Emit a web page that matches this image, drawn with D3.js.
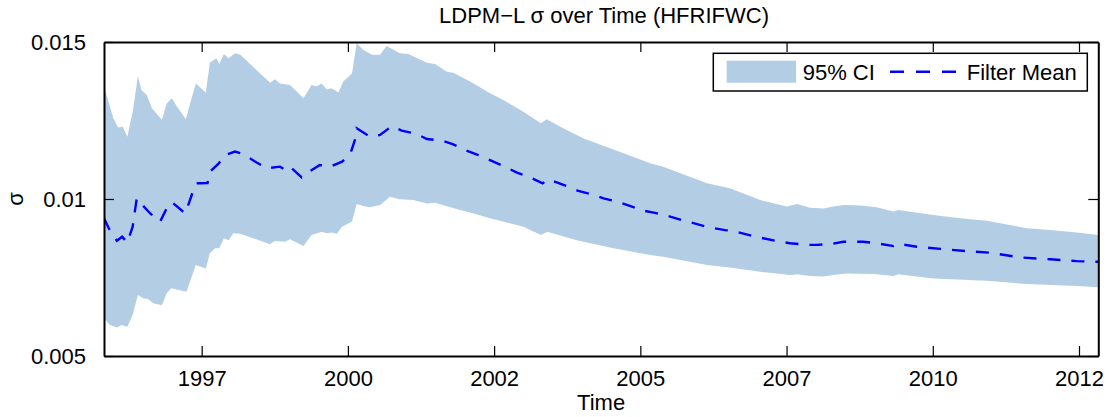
<!DOCTYPE html>
<html><head><meta charset="utf-8">
<script src="https://cdn.jsdelivr.net/npm/d3@7"></script>
<style>body{margin:0;background:#fff}svg{display:block;font-family:"Liberation Sans",Arial,sans-serif}</style>
</head><body><svg id="c" width="1109" height="417"></svg>
<script>
const titleText = "LDPM\u2212L \u03c3 over Time (HFRIFWC)";
const xLabelText = "Time";
const yLabelText = "\u03c3";
const legendLabels = ["95% CI", "Filter Mean"];
const xTickValues = [1997.5, 2000, 2002.5, 2005, 2007.5, 2010, 2012.5];
const xTickLabels = ["1997", "2000", "2002", "2005", "2007", "2010", "2012"];
const yTickValues = [0.005, 0.01, 0.015];
const yTickLabels = ["0.005", "0.01", "0.015"];
const xDomain = [1995.83, 2012.83];
const yDomain = [0.005, 0.015];

const upperYears = [1995.83,1995.99,1996.07,1996.15,1996.23,1996.32,1996.41,1996.47,1996.56,1996.65,1996.82,1996.90,1996.99,1997.08,1997.23,1997.31,1997.40,1997.57,1997.64,1997.75,1997.80,1997.88,1997.96,1998.07,1998.16,1998.67,1998.75,1998.84,1999.01,1999.24,1999.38,1999.46,1999.55,1999.64,1999.72,1999.84,1999.92,2000.07,2000.15,2000.26,2000.41,2000.55,2000.66,2000.89,2001.03,2001.35,2001.49,2001.69,2001.80,2002.09,2002.43,2002.66,2003.00,2003.30,2003.40,2003.68,2004.03,2004.54,2005.17,2005.39,2006.14,2006.53,2007.05,2007.50,2007.68,2007.90,2008.13,2008.30,2008.47,2008.76,2009.04,2009.33,2009.41,2010.01,2010.47,2010.92,2011.61,2012.01,2012.46,2012.83];
const upperValues = [0.01358,0.01257,0.01228,0.01230,0.01198,0.01278,0.01392,0.01347,0.01331,0.01289,0.01252,0.01303,0.01321,0.01294,0.01254,0.01310,0.01368,0.01339,0.01434,0.01448,0.01430,0.01462,0.01448,0.01464,0.01459,0.01370,0.01381,0.01368,0.01363,0.01321,0.01363,0.01358,0.01368,0.01349,0.01353,0.01339,0.01374,0.01400,0.01496,0.01475,0.01459,0.01459,0.01487,0.01464,0.01462,0.01434,0.01430,0.01405,0.01402,0.01374,0.01337,0.01315,0.01278,0.01241,0.01254,0.01225,0.01193,0.01158,0.01114,0.01103,0.01050,0.01034,0.00997,0.00976,0.00984,0.00972,0.00970,0.00976,0.00981,0.00979,0.00974,0.00960,0.00965,0.00949,0.00939,0.00931,0.00907,0.00901,0.00893,0.00885];

const lowerYears = [1995.83,1995.93,1996.05,1996.13,1996.23,1996.32,1996.41,1996.50,1996.59,1996.67,1996.82,1996.90,1996.98,1997.07,1997.24,1997.40,1997.57,1997.64,1997.73,1997.80,1997.88,1997.96,1998.04,1998.16,1998.67,1998.75,1998.93,1999.01,1999.24,1999.38,1999.47,1999.55,1999.64,1999.72,1999.81,1999.90,2000.07,2000.15,2000.26,2000.38,2000.55,2000.72,2000.89,2001.12,2001.35,2001.49,2001.75,2001.92,2002.15,2002.43,2003.00,2003.30,2003.41,2003.91,2004.54,2005.17,2005.39,2006.14,2006.53,2007.05,2007.56,2007.68,2007.90,2008.13,2008.30,2008.53,2008.99,2009.33,2009.41,2010.01,2010.92,2011.61,2012.46,2012.83];
const lowerValues = [0.00620,0.00599,0.00591,0.00599,0.00593,0.00631,0.00694,0.00684,0.00681,0.00668,0.00662,0.00700,0.00716,0.00712,0.00705,0.00790,0.00779,0.00827,0.00843,0.00843,0.00875,0.00869,0.00891,0.00889,0.00856,0.00866,0.00864,0.00872,0.00850,0.00885,0.00891,0.00896,0.00891,0.00893,0.00889,0.00912,0.00928,0.00984,0.00978,0.00974,0.00981,0.01007,0.00999,0.00997,0.00986,0.00988,0.00974,0.00965,0.00954,0.00939,0.00912,0.00885,0.00896,0.00869,0.00843,0.00822,0.00816,0.00790,0.00782,0.00768,0.00758,0.00760,0.00755,0.00753,0.00758,0.00763,0.00761,0.00755,0.00760,0.00747,0.00740,0.00729,0.00723,0.00719];

const meanYears = [1995.83,1995.92,1996.05,1996.14,1996.23,1996.32,1996.39,1996.46,1996.62,1996.79,1996.90,1996.99,1997.22,1997.36,1997.41,1997.47,1997.60,1997.64,1997.78,1997.90,1998.07,1998.21,1998.44,1998.61,1998.84,1998.93,1999.01,1999.21,1999.34,1999.52,1999.70,1999.90,2000.04,2000.12,2000.15,2000.38,2000.55,2000.75,2000.92,2001.18,2001.35,2001.61,2001.79,2002.03,2002.23,2002.43,2002.66,2002.89,2003.09,2003.33,2003.43,2003.49,2003.74,2003.94,2004.20,2004.37,2004.62,2004.82,2005.08,2005.25,2005.51,2005.71,2005.97,2006.16,2006.45,2006.59,2006.93,2007.10,2007.33,2007.56,2007.85,2008.02,2008.27,2008.47,2008.81,2009.04,2009.33,2009.41,2009.73,2010.13,2010.58,2010.98,2011.49,2012.01,2012.46,2012.83];
const meanValues = [0.00939,0.00904,0.00867,0.00880,0.00861,0.00912,0.01002,0.00986,0.00954,0.00928,0.00970,0.00990,0.00954,0.01029,0.01050,0.01050,0.01051,0.01087,0.01111,0.01140,0.01151,0.01143,0.01116,0.01098,0.01103,0.01092,0.01103,0.01069,0.01087,0.01108,0.01103,0.01119,0.01143,0.01188,0.01225,0.01198,0.01204,0.01232,0.01218,0.01207,0.01191,0.01186,0.01175,0.01154,0.01140,0.01124,0.01105,0.01084,0.01071,0.01050,0.01063,0.01058,0.01041,0.01026,0.01013,0.01002,0.00991,0.00978,0.00962,0.00956,0.00944,0.00933,0.00920,0.00910,0.00901,0.00898,0.00882,0.00875,0.00866,0.00859,0.00854,0.00854,0.00857,0.00864,0.00864,0.00859,0.00850,0.00857,0.00848,0.00841,0.00834,0.00829,0.00814,0.00808,0.00802,0.00800];

const W = 1109, H = 417;
const margin = {left: 104, right: 10.7, top: 42, bottom: 61};
const svg = d3.select("#c");
const x = d3.scaleLinear().domain(xDomain).range([margin.left, W - margin.right]);
const y = d3.scaleLinear().domain(yDomain).range([H - margin.bottom, margin.top]);
const pw = x.range()[1] - x.range()[0];
const ph = y.range()[0] - y.range()[1];

svg.append("defs").append("clipPath").attr("id", "clip")
  .append("rect").attr("x", margin.left).attr("y", margin.top).attr("width", pw).attr("height", ph);

const upper = upperYears.map((t, i) => [t, upperValues[i]]);
const lower = lowerYears.map((t, i) => [t, lowerValues[i]]);
const mean = meanYears.map((t, i) => [t, meanValues[i]]);

const line = d3.line().x(d => x(d[0])).y(d => y(d[1]));
const fillColor = "rgb(179,205,228)";

const g = svg.append("g").attr("clip-path", "url(#clip)");
g.append("path").attr("d", line(upper.concat(lower.slice().reverse())) + "Z")
  .attr("fill", fillColor).attr("stroke", "none");
g.append("path").attr("d", line(mean)).attr("fill", "none")
  .attr("stroke", "#0000ff").attr("stroke-width", 2.4).attr("stroke-dasharray", "13,11");

// axes (box with inward ticks)
const fmtX = (d, i) => xTickLabels[i];
const fmtY = (d, i) => yTickLabels[i];
const tickLen = 10;
const axB = svg.append("g").attr("transform", `translate(0,${y.range()[0]})`)
  .call(d3.axisBottom(x).tickValues(xTickValues).tickFormat(fmtX).tickSizeInner(-tickLen).tickSizeOuter(0).tickPadding(14));
const axT = svg.append("g").attr("transform", `translate(0,${y.range()[1]})`)
  .call(d3.axisTop(x).tickValues(xTickValues).tickFormat("").tickSizeInner(-tickLen).tickSizeOuter(0));
const axL = svg.append("g").attr("transform", `translate(${x.range()[0]},0)`)
  .call(d3.axisLeft(y).tickValues(yTickValues).tickFormat(fmtY).tickSizeInner(-tickLen).tickSizeOuter(0).tickPadding(18));
const axR = svg.append("g").attr("transform", `translate(${x.range()[1]},0)`)
  .call(d3.axisRight(y).tickValues(yTickValues).tickFormat("").tickSizeInner(-tickLen).tickSizeOuter(0));
[axB, axT, axL, axR].forEach(a => {
  a.selectAll(".domain").attr("stroke", "#000").attr("stroke-width", 2);
  a.selectAll(".tick line").attr("stroke", "#000").attr("stroke-width", 1.2);
  a.selectAll("text").attr("font-size", 22).attr("font-family", '"Liberation Sans",Arial,sans-serif').attr("fill", "#000");
});
axB.selectAll(".tick text").attr("dy", "0.71em");

// labels
svg.append("text").attr("x", 604).attr("y", 22.5)
  .attr("text-anchor", "middle").attr("font-size", 22).text(titleText);
svg.append("text").attr("x", (x.range()[0] + x.range()[1]) / 2).attr("y", 410)
  .attr("text-anchor", "middle").attr("font-size", 22).text(xLabelText);
svg.append("text").attr("transform", `translate(23,${(y.range()[0] + y.range()[1]) / 2}) rotate(-90)`)
  .attr("text-anchor", "middle").attr("font-size", 22).text(yLabelText);

// legend
const lg = svg.append("g");
lg.append("rect").attr("x", 713.3).attr("y", 53.3).attr("width", 374).attr("height", 37.7)
  .attr("fill", "#fff").attr("stroke", "#000").attr("stroke-width", 1.5);
lg.append("rect").attr("x", 726.7).attr("y", 60.7).attr("width", 69.3).attr("height", 22).attr("fill", fillColor);
lg.append("text").attr("x", 802.7).attr("y", 80).attr("font-size", 22).text(legendLabels[0]);
lg.append("line").attr("x1", 890).attr("x2", 958.3).attr("y1", 71.7).attr("y2", 71.7)
  .attr("stroke", "#0000ff").attr("stroke-width", 2.4).attr("stroke-dasharray", "14,12");
lg.append("text").attr("x", 966.7).attr("y", 80).attr("font-size", 22).text(legendLabels[1]);
</script></body></html>
